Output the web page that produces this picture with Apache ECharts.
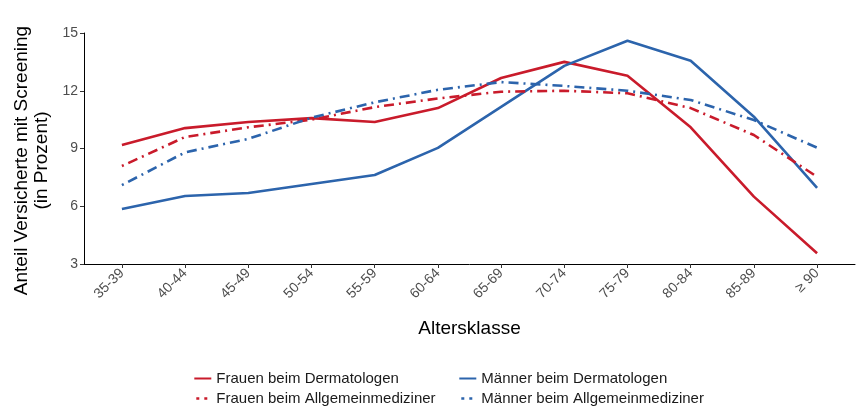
<!DOCTYPE html>
<html>
<head>
<meta charset="utf-8">
<script src="https://cdn.jsdelivr.net/npm/echarts@6/dist/echarts.min.js"></script>
<style>
  html, body { margin: 0; padding: 0; background: #fff; }
  #chart { width: 856px; height: 407px; }
</style>
</head>
<body>
<div id="chart"></div>
<script>
const categories = ["35-39", "40-44", "45-49", "50-54", "55-59", "60-64", "65-69", "70-74", "75-79", "80-84", "85-89", "\u2265 90"];

const frauenDerma = [9.18, 10.06, 10.38, 10.58, 10.38, 11.1, 12.66, 13.5, 12.78, 10.1, 6.5, 3.56];
const maennerDerma = [5.86, 6.53, 6.69, 7.16, 7.62, 9.03, 11.16, 13.29, 14.6, 13.56, 10.65, 6.96];
const frauenAllg = [8.09, 9.6, 10.1, 10.5, 11.15, 11.6, 11.95, 12.0, 11.87, 11.1, 9.7, 7.53];
const maennerAllg = [7.1, 8.8, 9.5, 10.6, 11.4, 12.05, 12.45, 12.25, 12.0, 11.52, 10.48, 9.04];

const red = "#C91B2B";
const blue = "#2C64AC";
const font = "Liberation Sans, Arial, sans-serif";
const dotdash = [2, 5, 10, 5];

const toPoints = (vals) => vals.map((v, i) => [i, v]);

const makeSeries = (name, vals, color, dashed) => ({
  name,
  type: "line",
  data: toPoints(vals),
  symbol: "none",
  smooth: false,
  lineStyle: {
    color,
    width: 2.6,
    type: dashed ? dotdash : "solid",
    cap: "butt",
  },
  itemStyle: { color },
});

const chart = echarts.init(document.getElementById("chart"), null, { renderer: "canvas" });

const legendBase = {
  orient: "vertical",
  top: 371,
  padding: 0,
  itemWidth: 17,
  itemHeight: 14,
  itemGap: 5,
  itemStyle: { opacity: 0 },
  textStyle: { fontFamily: font, fontSize: 15, color: "#1a1a1a" },
};

// dashed key in the legend shows as two short dashes
const dashedKey = { type: [3, 5], dashOffset: -2, width: 2.6 };

chart.setOption({
  animation: false,
  backgroundColor: "#fff",
  grid: { left: 84, right: 1, top: 33, bottom: 143, containLabel: false, outerBoundsMode: "none" },
  xAxis: {
    type: "value",
    min: -0.6,
    max: 11.6,
    name: "Altersklasse",
    nameLocation: "middle",
    nameGap: 55,
    nameTextStyle: { fontFamily: font, fontSize: 19, color: "#000" },
    axisLine: { show: true, onZero: false, lineStyle: { color: "#000", width: 1 } },
    axisTick: {
      show: true,
      length: 4,
      customValues: categories.map((c, i) => i),
      lineStyle: { color: "#333" },
    },
    axisLabel: {
      customValues: categories.map((c, i) => i),
      formatter: (v) => categories[Math.round(v)],
      rotate: 45,
      margin: 7,
      fontFamily: font,
      fontSize: 14,
      color: "#4d4d4d",
    },
    splitLine: { show: false },
  },
  yAxis: {
    type: "value",
    min: 3,
    max: 15,
    interval: 3,
    name: "Anteil Versicherte mit Screening\n(in Prozent)",
    nameLocation: "middle",
    nameRotate: 90,
    nameGap: 32,
    nameTextStyle: { fontFamily: font, fontSize: 19, color: "#000", lineHeight: 20, padding: [0, 24, 0, 0] },
    axisLine: { show: true, onZero: false, lineStyle: { color: "#000", width: 1 } },
    axisTick: { show: true, length: 4, lineStyle: { color: "#333" } },
    axisLabel: { margin: 6, fontFamily: font, fontSize: 14, color: "#4d4d4d" },
    splitLine: { show: false },
  },
  legend: [
    Object.assign({}, legendBase, {
      left: 193,
      data: [
        { name: "Frauen beim Dermatologen" },
        { name: "Frauen beim Allgemeinmediziner", lineStyle: dashedKey },
      ],
    }),
    Object.assign({}, legendBase, {
      left: 458,
      data: [
        { name: "M\u00e4nner beim Dermatologen" },
        { name: "M\u00e4nner beim Allgemeinmediziner", lineStyle: dashedKey },
      ],
    }),
  ],
  series: [
    makeSeries("Frauen beim Dermatologen", frauenDerma, red, false),
    makeSeries("M\u00e4nner beim Dermatologen", maennerDerma, blue, false),
    makeSeries("Frauen beim Allgemeinmediziner", frauenAllg, red, true),
    makeSeries("M\u00e4nner beim Allgemeinmediziner", maennerAllg, blue, true),
  ],
});
</script>
</body>
</html>
